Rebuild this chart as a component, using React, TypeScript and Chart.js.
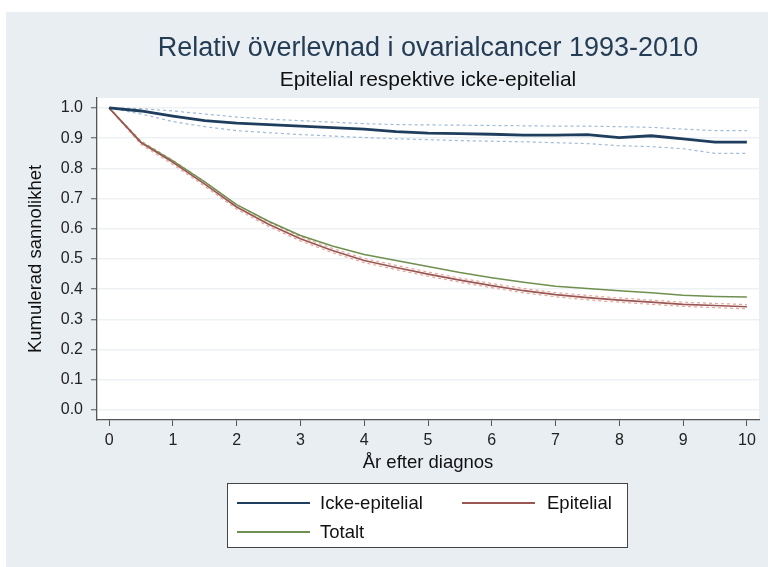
import React, { useEffect, useRef } from "react";
import { Chart, registerables } from "chart.js";

Chart.register(...registerables);

const titleText = "Relativ överlevnad i ovarialcancer 1993-2010";
const subtitleText = "Epitelial respektive icke-epitelial";
const xAxisTitle = "År efter diagnos";
const yAxisTitle = "Kumulerad sannolikhet";

const xTickValues = [0, 1, 2, 3, 4, 5, 6, 7, 8, 9, 10];
const yTickValues = [0, 0.1, 0.2, 0.3, 0.4, 0.5, 0.6, 0.7, 0.8, 0.9, 1.0];

const years = [0, 0.5, 1, 1.5, 2, 2.5, 3, 3.5, 4, 4.5, 5, 5.5, 6, 6.5, 7, 7.5, 8, 8.5, 9, 9.5, 10];

const ickeEpitelial = [1.0, 0.99, 0.973, 0.958, 0.95, 0.945, 0.94, 0.935, 0.93, 0.922, 0.917, 0.915, 0.913, 0.91, 0.91, 0.912, 0.902, 0.908, 0.898, 0.887, 0.887];
const ickeUpper = [1.0, 0.998, 0.99, 0.98, 0.97, 0.963, 0.958, 0.953, 0.948, 0.945, 0.944, 0.943, 0.942, 0.941, 0.94, 0.94, 0.938, 0.936, 0.93, 0.925, 0.925];
const ickeLower = [1.0, 0.98, 0.955, 0.938, 0.925, 0.918, 0.912, 0.907, 0.902, 0.898, 0.895, 0.892, 0.89, 0.888, 0.885, 0.882, 0.875, 0.872, 0.865, 0.85, 0.85];

const epitelial = [1.0, 0.885, 0.82, 0.748, 0.672, 0.615, 0.567, 0.528, 0.495, 0.472, 0.45, 0.43, 0.412, 0.395, 0.382, 0.372, 0.364, 0.357, 0.35, 0.346, 0.342];
const epiUpper = [1.0, 0.891, 0.827, 0.755, 0.679, 0.622, 0.574, 0.535, 0.502, 0.479, 0.457, 0.437, 0.419, 0.402, 0.389, 0.379, 0.371, 0.364, 0.357, 0.353, 0.349];
const epiLower = [1.0, 0.879, 0.813, 0.741, 0.665, 0.608, 0.56, 0.521, 0.488, 0.465, 0.443, 0.423, 0.405, 0.388, 0.375, 0.365, 0.357, 0.35, 0.343, 0.339, 0.335];

const totalt = [1.0, 0.887, 0.825, 0.755, 0.68, 0.625, 0.578, 0.543, 0.515, 0.495, 0.475, 0.455, 0.438, 0.423, 0.41, 0.402, 0.395, 0.388, 0.38, 0.376, 0.374];

const FONT = "'Liberation Sans', Arial, Helvetica, sans-serif";

const COLORS = {
  icke: "#1f3e5d",
  epi: "#9a5652",
  tot: "#6f8f4f",
  ickeCI: "#9fbad6",
  epiCI: "#e8a49a",
};

const toPoints = (ys: number[]) => years.map((x, i) => ({ x, y: ys[i] }));

const stataPlugin = {
  id: "stataLook",
  beforeDraw(chart: any) {
    const { ctx, width, height, chartArea } = chart;
    ctx.save();
    ctx.fillStyle = "#ffffff";
    ctx.fillRect(0, 0, width, height);
    ctx.fillStyle = "#e9eef2";
    ctx.fillRect(6, 12, width - 6, height - 12);
    ctx.fillStyle = "#ffffff";
    ctx.fillRect(chartArea.left, chartArea.top, chartArea.right - chartArea.left, chartArea.bottom - chartArea.top);
    ctx.restore();
  },
  afterDraw(chart: any) {
    const { ctx, chartArea } = chart;
    const cx = (chartArea.left + chartArea.right) / 2;
    ctx.save();
    ctx.textAlign = "center";
    ctx.textBaseline = "middle";
    ctx.fillStyle = "#253c55";
    ctx.font = `27px ${FONT}`;
    ctx.fillText(titleText, cx, 49);
    ctx.fillStyle = "#111111";
    ctx.font = `21px ${FONT}`;
    ctx.fillText(subtitleText, cx, 80);

    // legend box
    const bx = 227, by = 483, bw = 400, bh = 64;
    ctx.fillStyle = "#ffffff";
    ctx.fillRect(bx, by, bw, bh);
    ctx.strokeStyle = "#444444";
    ctx.lineWidth = 1;
    ctx.strokeRect(bx + 0.5, by + 0.5, bw, bh);

    const slots = [
      { sx: 237, tx: 320, y: 503 },
      { sx: 462, tx: 547, y: 503 },
      { sx: 237, tx: 320, y: 532 },
    ];
    ctx.textAlign = "left";
    ctx.font = `18.5px ${FONT}`;
    chart.data.datasets.slice(0, 3).forEach((ds: any, i: number) => {
      const s = slots[i];
      ctx.strokeStyle = ds.borderColor;
      ctx.lineWidth = 2;
      ctx.beginPath();
      ctx.moveTo(s.sx, s.y);
      ctx.lineTo(s.sx + 73, s.y);
      ctx.stroke();
      ctx.fillStyle = "#111111";
      ctx.fillText(ds.label, s.tx, s.y + 1);
    });
    ctx.restore();
  },
};

export default function App() {
  const canvasRef = useRef<HTMLCanvasElement | null>(null);

  useEffect(() => {
    if (!canvasRef.current) return;
    const chart = new Chart(canvasRef.current, {
      type: "line",
      data: {
        datasets: [
          { label: "Icke-epitelial", data: toPoints(ickeEpitelial), borderColor: COLORS.icke, borderWidth: 2.8, pointRadius: 0, tension: 0 },
          { label: "Epitelial", data: toPoints(epitelial), borderColor: COLORS.epi, borderWidth: 1.7, pointRadius: 0, tension: 0 },
          { label: "Totalt", data: toPoints(totalt), borderColor: COLORS.tot, borderWidth: 1.5, pointRadius: 0, tension: 0 },
          { label: "Icke-epitelial övre", data: toPoints(ickeUpper), borderColor: COLORS.ickeCI, borderWidth: 1.2, borderDash: [3, 3], pointRadius: 0, tension: 0 },
          { label: "Icke-epitelial nedre", data: toPoints(ickeLower), borderColor: COLORS.ickeCI, borderWidth: 1.2, borderDash: [3, 3], pointRadius: 0, tension: 0 },
          { label: "Epitelial övre", data: toPoints(epiUpper), borderColor: COLORS.epiCI, borderWidth: 1.2, borderDash: [3, 3], pointRadius: 0, tension: 0 },
          { label: "Epitelial nedre", data: toPoints(epiLower), borderColor: COLORS.epiCI, borderWidth: 1.2, borderDash: [3, 3], pointRadius: 0, tension: 0 },
        ],
      },
      options: {
        animation: false,
        responsive: false,
        devicePixelRatio: 1,
        layout: { padding: { top: 98, right: 9, bottom: 93, left: 0 } },
        plugins: {
          legend: { display: false },
          title: { display: false },
          tooltip: { enabled: false },
        },
        scales: {
          x: {
            type: "linear",
            min: -0.19,
            max: 10.19,
            afterBuildTicks: (s: any) => {
              s.ticks = xTickValues.map((v) => ({ value: v }));
            },
            afterFit: (s: any) => {
              s.height = 54;
            },
            ticks: {
              autoSkip: false,
              maxRotation: 0,
              padding: 5,
              color: "#222222",
              font: { family: FONT, size: 16 },
              callback: (v: any) => String(v),
            },
            grid: { drawOnChartArea: false, drawTicks: true, tickLength: 6, tickColor: "#555555", tickWidth: 1 },
            border: { display: true, color: "#555555", width: 1.3 },
            title: { display: true, text: xAxisTitle, color: "#111111", font: { family: FONT, size: 18.5 }, padding: { top: 0, bottom: 0 } },
          },
          y: {
            type: "linear",
            min: -0.033,
            max: 1.033,
            afterBuildTicks: (s: any) => {
              s.ticks = yTickValues.map((v) => ({ value: v }));
            },
            afterFit: (s: any) => {
              s.width = 97;
            },
            ticks: {
              autoSkip: false,
              padding: 8,
              color: "#222222",
              font: { family: FONT, size: 16 },
              callback: (v: any) => Number(v).toFixed(1),
            },
            grid: { color: "#edf1f4", lineWidth: 1.5, drawTicks: true, tickLength: 6, tickColor: "#555555", tickWidth: 1 },
            border: { display: true, color: "#555555", width: 1.3 },
            title: { display: true, text: yAxisTitle, color: "#111111", font: { family: FONT, size: 18.5 }, padding: { top: 25, bottom: 0 } },
          },
        },
      },
      plugins: [stataPlugin],
    } as any);
    return () => chart.destroy();
  }, []);

  return (
    <div style={{ position: "absolute", left: 0, top: 0, width: 768, height: 567 }}>
      <canvas ref={canvasRef} width={768} height={567} style={{ display: "block" }} />
    </div>
  );
}
